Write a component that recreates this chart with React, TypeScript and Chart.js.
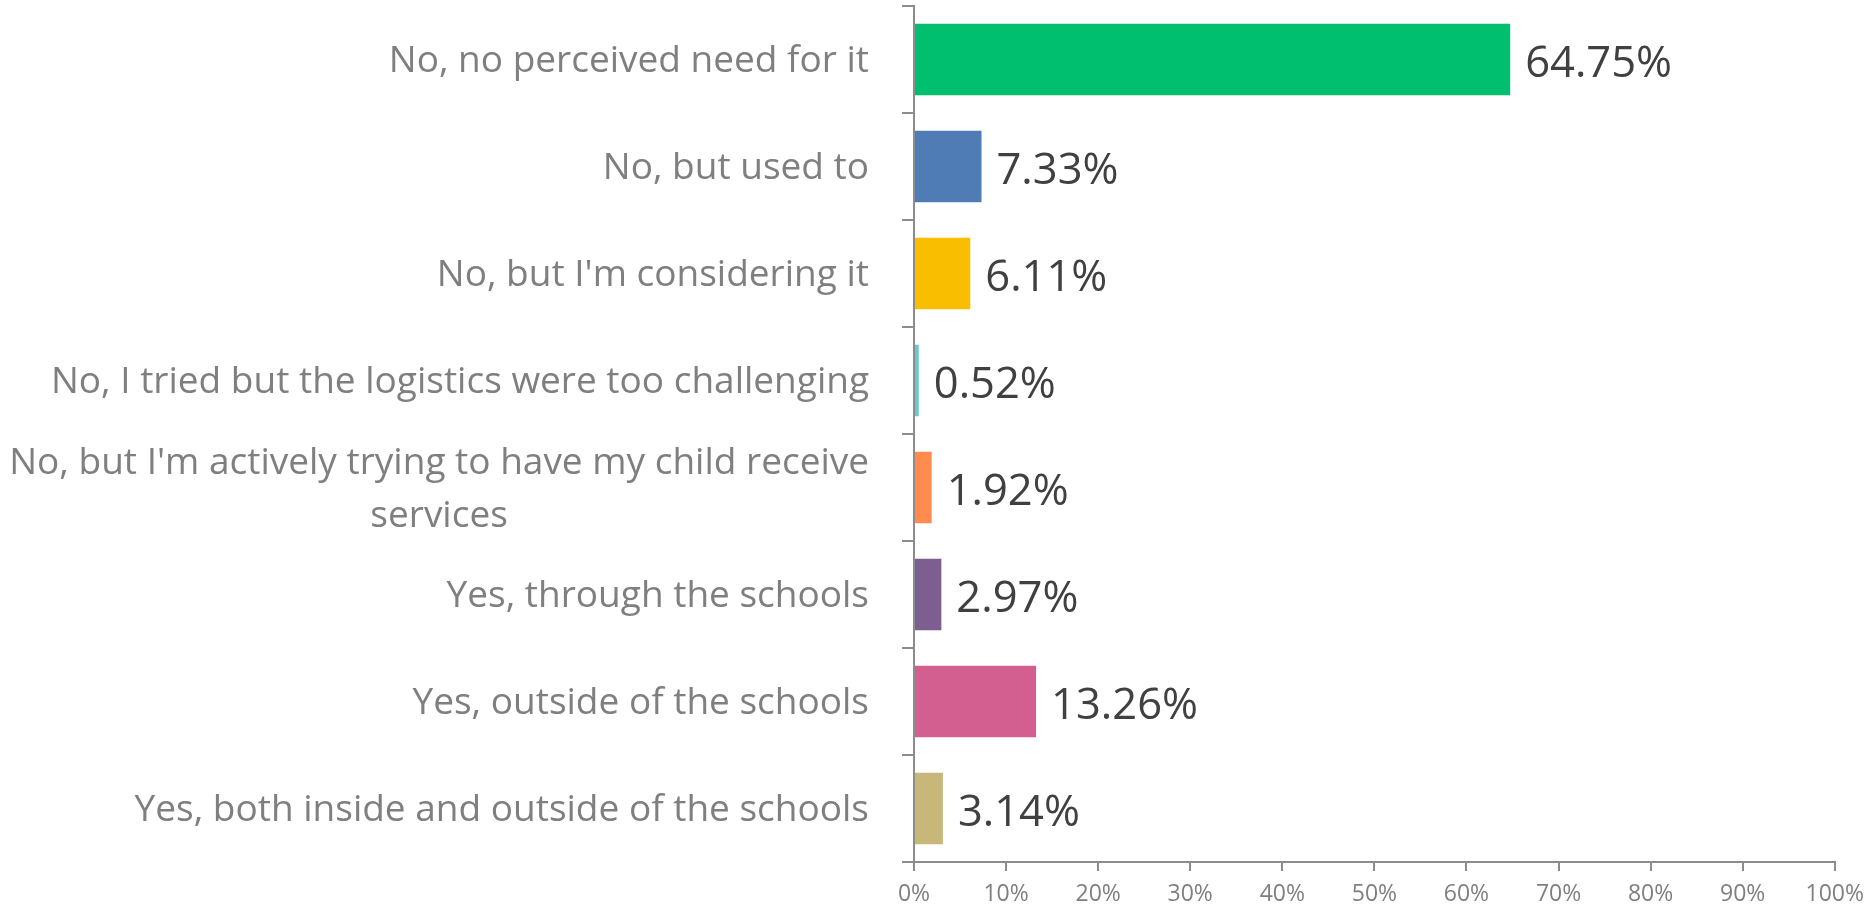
import React, { useEffect, useRef } from "react";
import { Chart, registerables } from "chart.js";

Chart.register(...registerables);

const categories: (string | string[])[] = [
  "No, no perceived need for it",
  "No, but used to",
  "No, but I'm considering it",
  "No, I tried but the logistics were too challenging",
  ["No, but I'm actively trying to have my child receive", "services"],
  "Yes, through the schools",
  "Yes, outside of the schools",
  "Yes, both inside and outside of the schools",
];

const values: number[] = [64.75, 7.33, 6.11, 0.52, 1.92, 2.97, 13.26, 3.14];

const barColors: string[] = [
  "#00BF6F",
  "#507CB6",
  "#F9BE00",
  "#6BC8CD",
  "#FF8B4F",
  "#7D5E90",
  "#D25F90",
  "#C7B879",
];

const xTickValues: number[] = [0, 10, 20, 30, 40, 50, 60, 70, 80, 90, 100];

const FONT = "'Open Sans', 'DejaVu Sans', sans-serif";
const AXIS_COLOR = "#8c8c8c";

const categoryLabelPlugin = {
  id: "categoryLabels",
  afterDraw(chart: any) {
    const ctx = chart.ctx;
    const yScale = chart.scales.y;
    const rightEdge = 869;
    const size = 37;
    const lineH = 53;
    ctx.save();
    ctx.font = `${size}px ${FONT}`;
    ctx.fillStyle = "#7f7f7f";
    ctx.textBaseline = "middle";
    ctx.textAlign = "center";
    categories.forEach((lab, i) => {
      const lines = Array.isArray(lab) ? lab : [lab];
      const widths = lines.map((l) => ctx.measureText(l).width);
      const maxW = Math.max(...widths);
      const cx = rightEdge - maxW / 2;
      const cy = yScale.getPixelForValue(i) + 2;
      const top = cy - ((lines.length - 1) * lineH) / 2;
      lines.forEach((l, j) => {
        ctx.fillText(l, cx, top + j * lineH);
      });
    });
    ctx.restore();
  },
};

const valueLabelPlugin = {
  id: "valueLabels",
  afterDatasetsDraw(chart: any) {
    const ctx = chart.ctx;
    const meta = chart.getDatasetMeta(0);
    ctx.save();
    ctx.font = `43.5px ${FONT}`;
    ctx.fillStyle = "#404040";
    ctx.textBaseline = "middle";
    ctx.textAlign = "left";
    meta.data.forEach((bar: any, i: number) => {
      ctx.fillText(values[i].toFixed(2) + "%", bar.x + 15, bar.y + 5);
    });
    ctx.restore();
  },
};

export default function App() {
  const canvasRef = useRef<HTMLCanvasElement | null>(null);

  useEffect(() => {
    if (!canvasRef.current) return;
    const chart = new Chart(canvasRef.current, {
      type: "bar",
      data: {
        labels: categories.map((c) => (Array.isArray(c) ? c.join(" ") : c)),
        datasets: [
          {
            data: values,
            backgroundColor: barColors,
            borderWidth: 0,
            categoryPercentage: 1,
            barPercentage: 0.67,
          },
        ],
      },
      options: {
        indexAxis: "y",
        animation: false,
        responsive: true,
        maintainAspectRatio: false,
        layout: { padding: { left: 0, right: 34, top: 6, bottom: 0 } },
        plugins: {
          legend: { display: false },
          tooltip: { enabled: false },
        },
        scales: {
          x: {
            min: 0,
            max: 100,
            afterBuildTicks: (scale: any) => {
              scale.ticks = xTickValues.map((v) => ({ value: v }));
            },
            afterFit: (scale: any) => {
              scale.height = 52;
            },
            border: { display: true, color: AXIS_COLOR, width: 2 },
            grid: {
              drawOnChartArea: false,
              drawTicks: true,
              tickLength: 9,
              color: AXIS_COLOR,
              lineWidth: 2,
            },
            ticks: {
              color: "#7f7f7f",
              font: { family: FONT, size: 23 },
              padding: 10,
              maxRotation: 0,
              callback: (v: any) => v + "%",
            },
          },
          y: {
            afterFit: (scale: any) => {
              scale.width = 914;
            },
            border: { display: true, color: AXIS_COLOR, width: 2 },
            grid: {
              offset: true,
              drawOnChartArea: false,
              drawTicks: true,
              tickLength: 12,
              color: AXIS_COLOR,
              lineWidth: 2,
            },
            ticks: { display: false },
          },
        },
      },
      plugins: [categoryLabelPlugin, valueLabelPlugin],
    });
    return () => chart.destroy();
  }, []);

  return (
    <div
      style={{
        position: "absolute",
        left: 0,
        top: 0,
        width: "1874px",
        height: "914px",
        background: "#ffffff",
      }}
    >
      <canvas ref={canvasRef} />
    </div>
  );
}
